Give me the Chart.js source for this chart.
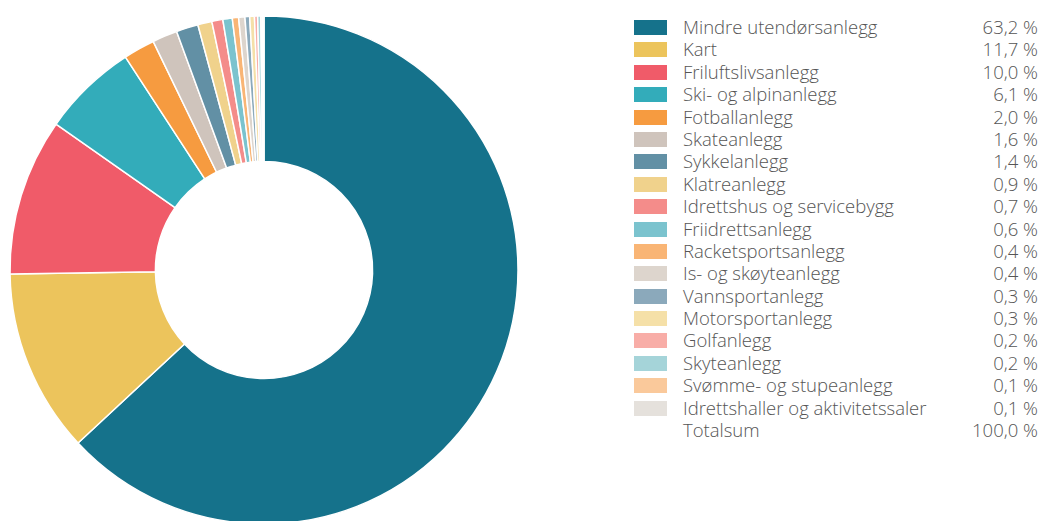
<!DOCTYPE html>
<html lang="no">
<head>
<meta charset="utf-8">
<title>Anlegg etter type</title>
<script src="https://cdn.jsdelivr.net/npm/chart.js@4/dist/chart.umd.min.js"></script>
<style>
  html, body { margin: 0; padding: 0; background: #fff; overflow: hidden; }
  body { width: 1041px; height: 521px; position: relative; font-family: "Open Sans", sans-serif; }
  #chartBox { position: absolute; left: -1px; top: 5px; width: 530px; height: 530px; }
  #legend { position: absolute; left: 634px; top: 16px; width: 404px; }
  .row { position: relative; height: 22.4px; line-height: 22.4px; font-size: 18.5px; font-weight: 300; color: #555; }
  .box { position: absolute; left: 0; top: 4px; width: 33px; height: 15px; }
  .lbl { position: absolute; left: 49px; top: 0; white-space: nowrap; }
  .val { position: absolute; right: 0; top: 0; white-space: nowrap; }
</style>
</head>
<body>
<div id="chartBox"><canvas id="donut" width="530" height="530"></canvas></div>
<div id="legend"></div>
<script>
// Anleggstyper og andel (%)
const categories = [
  'Mindre utendørsanlegg', 'Kart', 'Friluftslivsanlegg', 'Ski- og alpinanlegg',
  'Fotballanlegg', 'Skateanlegg', 'Sykkelanlegg', 'Klatreanlegg',
  'Idrettshus og servicebygg', 'Friidrettsanlegg', 'Racketsportsanlegg',
  'Is- og skøyteanlegg', 'Vannsportanlegg', 'Motorsportanlegg', 'Golfanlegg',
  'Skyteanlegg', 'Svømme- og stupeanlegg', 'Idrettshaller og aktivitetssaler'
];
const shares = [63.2, 11.7, 10.0, 6.1, 2.0, 1.6, 1.4, 0.9, 0.7, 0.6, 0.4, 0.4, 0.3, 0.3, 0.2, 0.2, 0.1, 0.1];
const colors = [
  '#15728b', '#ecc45c', '#f05b69', '#33acba', '#f69b40', '#cfc4bc',
  '#6290a5', '#f0d28c', '#f48c8a', '#7bc3ce', '#f9b575', '#ddd5cd',
  '#8ba9bb', '#f5e0a8', '#f8ada7', '#a5d4d9', '#fac99b', '#e5e1dc'
];
const totalLabel = 'Totalsum';
const totalValue = 100.0;

const fmt = v => v.toFixed(1).replace('.', ',') + ' %';

new Chart(document.getElementById('donut'), {
  type: 'doughnut',
  data: {
    labels: categories,
    datasets: [{
      data: shares,
      backgroundColor: colors,
      borderColor: '#ffffff',
      borderWidth: 1.5
    }]
  },
  options: {
    responsive: false,
    animation: false,
    radius: 254,
    cutout: 113,
    plugins: {
      legend: { display: false },
      tooltip: { enabled: false }
    }
  }
});

// Legend with values on the right
const legend = document.getElementById('legend');
function addRow(color, label, value) {
  const row = document.createElement('div');
  row.className = 'row';
  if (color) {
    const box = document.createElement('div');
    box.className = 'box';
    box.style.background = color;
    row.appendChild(box);
  }
  const lbl = document.createElement('span');
  lbl.className = 'lbl';
  lbl.textContent = label;
  const val = document.createElement('span');
  val.className = 'val';
  val.textContent = fmt(value);
  row.appendChild(lbl);
  row.appendChild(val);
  legend.appendChild(row);
}
categories.forEach((c, i) => addRow(colors[i], c, shares[i]));
addRow(null, totalLabel, totalValue);
</script>
</body>
</html>
